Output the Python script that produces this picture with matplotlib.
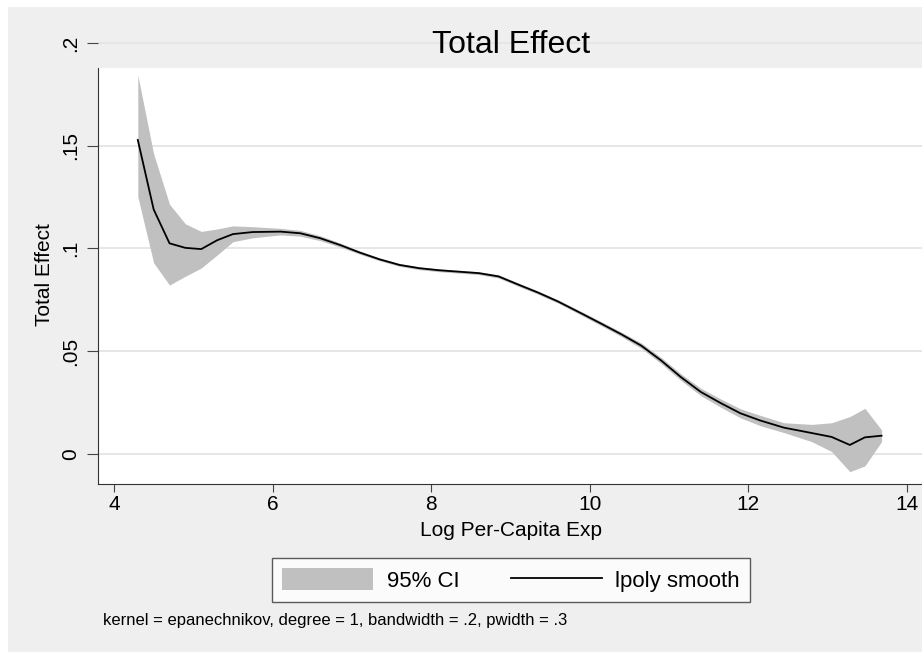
import matplotlib
matplotlib.use("Agg")
import matplotlib.pyplot as plt
from matplotlib.patches import Rectangle

plt.rcParams['font.family'] = ['Liberation Sans', 'DejaVu Sans']

# lpoly grid (log per-capita expenditure) and estimates
log_exp = [4.30, 4.50, 4.70, 4.90, 5.10, 5.30, 5.50, 5.75, 6.10, 6.35,
           6.60, 6.85, 7.10, 7.35, 7.60, 7.85, 8.10, 8.35, 8.60, 8.85,
           9.10, 9.35, 9.60, 9.90, 10.15, 10.40, 10.65, 10.90, 11.15, 11.40,
           11.65, 11.90, 12.15, 12.45, 12.80, 13.05, 13.28, 13.47, 13.68]
smooth = [0.1528, 0.1190, 0.1025, 0.1003, 0.0997, 0.1040, 0.1070, 0.1080, 0.1082, 0.1074,
          0.1050, 0.1017, 0.0980, 0.0947, 0.0920, 0.0904, 0.0894, 0.0887, 0.0880, 0.0864,
          0.0824, 0.0785, 0.0742, 0.0683, 0.0633, 0.0582, 0.0527, 0.0455, 0.0374, 0.0302,
          0.0248, 0.0198, 0.0163, 0.0128, 0.0102, 0.0083, 0.0044, 0.0081, 0.0089]
ci_upper = [0.1844, 0.1460, 0.1215, 0.1120, 0.1083, 0.1095, 0.1110, 0.1106, 0.1098, 0.1088,
            0.1062, 0.1027, 0.0988, 0.0954, 0.0927, 0.0911, 0.0901, 0.0894, 0.0887, 0.0872,
            0.0832, 0.0793, 0.0750, 0.0692, 0.0643, 0.0593, 0.0540, 0.0470, 0.0390, 0.0320,
            0.0268, 0.0220, 0.0188, 0.0152, 0.0144, 0.0152, 0.0182, 0.0222, 0.0117]
ci_lower = [0.1252, 0.0930, 0.0822, 0.0865, 0.0905, 0.0968, 0.1033, 0.1052, 0.1066, 0.1060,
            0.1038, 0.1007, 0.0972, 0.0940, 0.0913, 0.0897, 0.0887, 0.0880, 0.0873, 0.0856,
            0.0816, 0.0777, 0.0734, 0.0674, 0.0623, 0.0571, 0.0514, 0.0440, 0.0358, 0.0284,
            0.0228, 0.0176, 0.0138, 0.0104, 0.0060, 0.0012, -0.0086, -0.0058, 0.0060]

x_ticks = [4, 6, 8, 10, 12, 14]
y_ticks = [0, 0.05, 0.1, 0.15, 0.2]
y_tick_labels = ['0', '.05', '.1', '.15', '.2']

W, H = 922, 652
bg = '#efefef'
fig = plt.figure(figsize=(W / 100, H / 100), dpi=100)
fig.patch.set_facecolor('white')

# light gray graph region (image is cropped, thin white strip top/left)
fig.add_artist(Rectangle((8 / W, -0.01), 1.01 - 8 / W, 1.01 - 7 / H,
                         transform=fig.transFigure, facecolor=bg,
                         edgecolor='none', zorder=-10))

ax = fig.add_axes([98 / W, 1 - 484 / H, 1 - 98 / W, (484 - 7) / H])
ax.set_facecolor('white')
ax.set_axisbelow(True)

ax.fill_between(log_exp, ci_lower, ci_upper, color='#c0c0c0', lw=0, label='95% CI')
ax.plot(log_exp, smooth, color='black', lw=1.3, label='lpoly smooth')

ax.set_xlim(3.798, 14.19)
ax.set_ylim(-0.0146, 0.2175)
ax.set_xticks(x_ticks)
ax.set_yticks(y_ticks)
ax.set_yticklabels(y_tick_labels, rotation=90, va='center')
ax.grid(axis='y', color='#e6e6e6', lw=1.4)
ax.tick_params(axis='x', length=6, width=0.8, color='#444444', labelsize=15, pad=2)
ax.tick_params(axis='y', length=8, width=0.8, color='#444444', labelsize=15, pad=5)

for s in ['top', 'right']:
    ax.spines[s].set_visible(False)
ax.spines['bottom'].set_color('#333333')
ax.spines['left'].set_color('#333333')
ax.spines['left'].set_bounds(-0.0146, 0.1878)

# title band covering top of plot region
ax.add_patch(Rectangle((98 / W, 1 - 68 / H), 1 - 98 / W, 61 / H,
                       transform=fig.transFigure, facecolor=bg,
                       edgecolor='none', zorder=0.4, clip_on=False))
fig.text(511 / W, 1 - 45 / H, 'Total Effect', fontsize=23, ha='center', va='center')

ax.set_xlabel('Log Per-Capita Exp', fontsize=15)
ax.xaxis.set_label_coords(511 / W, 1 - 521 / H, transform=fig.transFigure)
ax.set_ylabel('Total Effect', fontsize=15)
ax.yaxis.set_label_coords(54 / W, 1 - 275 / H, transform=fig.transFigure)

leg = ax.legend(loc='center', bbox_to_anchor=(511 / W, 1 - 580 / H),
                bbox_transform=fig.transFigure, ncol=2, fontsize=16,
                frameon=True, fancybox=False, edgecolor='#333333',
                handlelength=4.1, handleheight=1.1, handletextpad=0.6,
                columnspacing=2.3, borderpad=0.45, borderaxespad=0)
leg.get_frame().set_linewidth(1.0)

fig.text(103 / W, 1 - 620 / H,
         'kernel = epanechnikov, degree = 1, bandwidth = .2, pwidth = .3',
         fontsize=12, ha='left', va='center')

fig.savefig('out.png', dpi=100, facecolor=fig.get_facecolor())
